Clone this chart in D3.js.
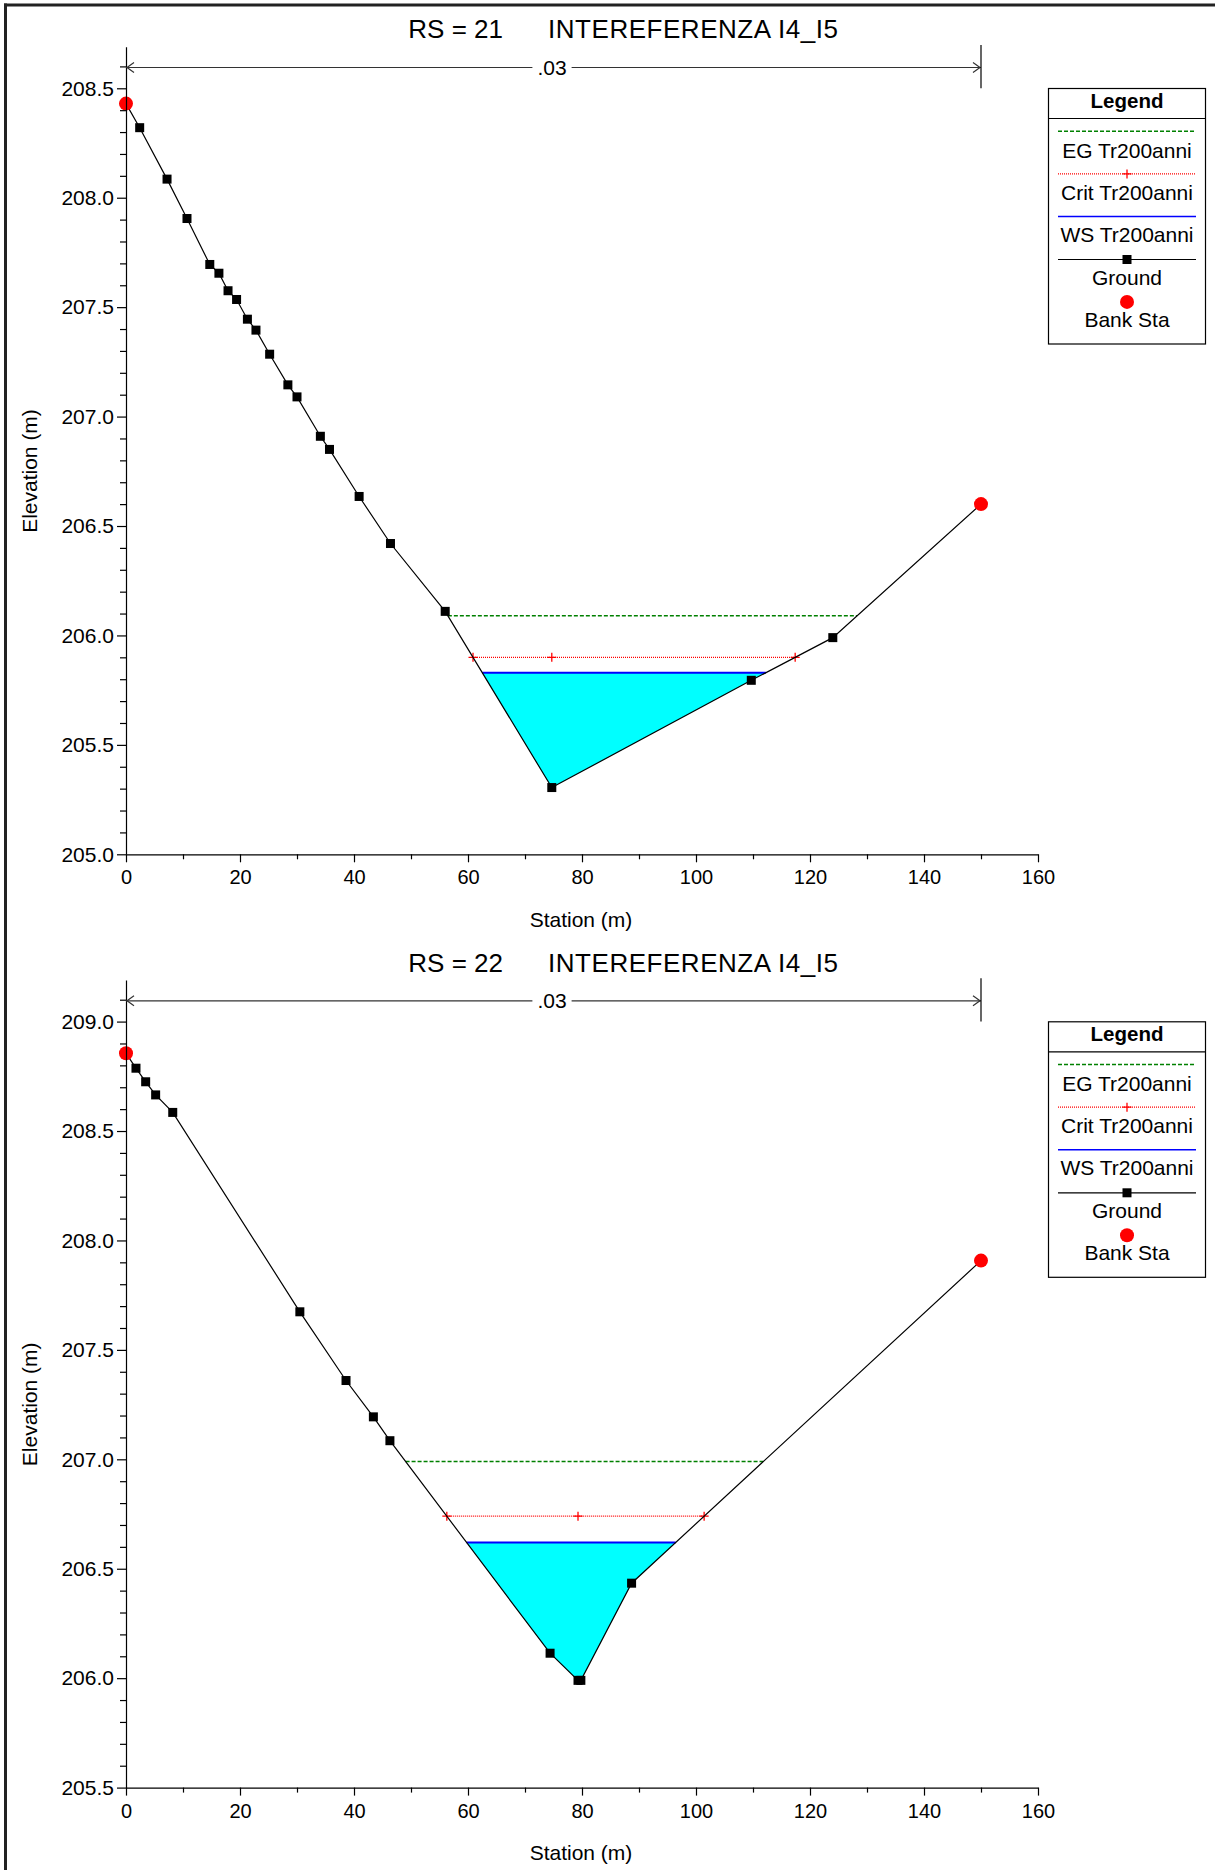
<!DOCTYPE html>
<html><head><meta charset="utf-8">
<script src="https://cdn.jsdelivr.net/npm/d3@7"></script>
<style>
body{margin:0;background:#fff;}
svg{display:block;font-family:"Liberation Sans",Arial,Helvetica,sans-serif;}
</style>
</head><body>
<svg id="c" width="1215" height="1870"></svg>
<script>
// ---------------- DATA ----------------
const rsLabels = ["RS = 21", "RS = 22"];
const reachName = "INTEREFERENZA I4_I5";

const stations21 = [0, 2.4, 7.2, 10.7, 14.7, 16.3, 17.9, 19.4, 21.3, 22.8, 25.2, 28.4, 30.0, 34.1, 35.7, 40.9, 46.4, 56.0, 74.7, 109.7, 124.0, 150.0];
const elev21     = [208.43, 208.32, 208.085, 207.905, 207.695, 207.655, 207.575, 207.535, 207.445, 207.395, 207.285, 207.145, 207.09, 206.91, 206.85, 206.635, 206.42, 206.11, 205.305, 205.795, 205.99, 206.60];

const stations22 = [0, 1.75, 3.45, 5.2, 8.2, 30.5, 38.6, 43.4, 46.3, 74.4, 79.3, 79.8, 88.7, 150.0];
const elev22     = [208.855, 208.787, 208.725, 208.665, 208.585, 207.674, 207.36, 207.194, 207.085, 206.114, 205.99, 205.99, 206.434, 207.908];

const bankSta21 = [0, 150];
const bankSta22 = [0, 150];

const egLevels   = [206.09, 206.99];
const critLevels = [205.90, 206.74];
const wsLevels   = [205.83, 206.62];

const manningN = [".03", ".03"];
const manningRange = [0, 150];

const xTicks = [0, 20, 40, 60, 80, 100, 120, 140, 160];
const xMinorTicks = [10, 30, 50, 70, 90, 110, 130, 150];
const yTicks21 = [205.0, 205.5, 206.0, 206.5, 207.0, 207.5, 208.0, 208.5];
const yTicks22 = [205.5, 206.0, 206.5, 207.0, 207.5, 208.0, 208.5, 209.0];
const yDomain21 = [205.0, 208.69];
const yDomain22 = [205.5, 209.19];

const legendTitle = "Legend";
const legendLabels = ["EG Tr200anni", "Crit Tr200anni", "WS Tr200anni", "Ground", "Bank Sta"];
const xAxisTitle = "Station (m)";
const yAxisTitle = "Elevation (m)";

// ---------------- STYLE / LAYOUT ----------------
const C = {eg:"#008000", crit:"#ff0000", ws:"#0000ff", water:"#00ffff", ground:"#000000", bank:"#ff0000"};
const svg = d3.select("#c");
svg.append("rect").attr("width",1215).attr("height",1870).attr("fill","#fff");

// window frame (top + left)
svg.append("rect").attr("x",4).attr("y",3.5).attr("width",1211).attr("height",3).attr("fill","#222");
svg.append("rect").attr("x",4).attr("y",3.5).attr("width",3).attr("height",1866.5).attr("fill","#222");

const panels = [
  {st:stations21, el:elev21, bank:bankSta21, yTicks:yTicks21, yDom:yDomain21, off:0},
  {st:stations22, el:elev22, bank:bankSta22, yTicks:yTicks22, yDom:yDomain22, off:933.3}
];

const plotL = 126, plotR = 1038, pxPerM = 218.86, yBase = 854.3;

function crossings(st, el, level){
  const iMin = d3.minIndex(el);
  let L = null, R = null;
  for (let i = iMin; i > 0; i--) {
    if (el[i-1] >= level && el[i] <= level) { L = st[i-1] + (level-el[i-1])/(el[i]-el[i-1])*(st[i]-st[i-1]); break; }
  }
  for (let i = iMin; i < st.length-1; i++) {
    if (el[i] <= level && el[i+1] >= level) { R = st[i] + (level-el[i])/(el[i+1]-el[i])*(st[i+1]-st[i]); break; }
  }
  return [L, R, st[iMin]];
}

panels.forEach((p, pi) => {
  const g = svg.append("g").attr("transform", `translate(0,${p.off})`);
  const x = d3.scaleLinear().domain([0,160]).range([plotL, plotR]);
  const y = d3.scaleLinear().domain(p.yDom).range([yBase, yBase - (p.yDom[1]-p.yDom[0])*pxPerM]);
  const top = y(p.yDom[1]);

  // title
  g.append("text").attr("x",408.3).attr("y",38.3).attr("font-size",26).attr("fill","#000").text(rsLabels[pi]);
  g.append("text").attr("x",548).attr("y",38.3).attr("font-size",26).attr("fill","#000")
    .attr("textLength",290).attr("lengthAdjust","spacing").text(reachName);

  // water fill
  const ws = wsLevels[pi];
  const [wl, wr] = crossings(p.st, p.el, ws);
  const poly = [[wl, ws]];
  p.st.forEach((s,i)=>{ if (s > wl && s < wr) poly.push([s, p.el[i]]); });
  poly.push([wr, ws]);
  g.append("path").attr("d", d3.line().x(d=>x(d[0])).y(d=>y(d[1]))(poly)+"Z").attr("fill", C.water).attr("stroke","none");

  // EG line
  const eg = egLevels[pi];
  const [el_, er_] = crossings(p.st, p.el, eg);
  g.append("line").attr("x1",x(el_)).attr("x2",x(er_)).attr("y1",y(eg)).attr("y2",y(eg))
    .attr("stroke",C.eg).attr("stroke-width",1.5).attr("stroke-dasharray","4,2");

  // Crit line
  const cr = critLevels[pi];
  const [cl, crr, cmid] = crossings(p.st, p.el, cr);
  g.append("line").attr("x1",x(cl)).attr("x2",x(crr)).attr("y1",y(cr)).attr("y2",y(cr))
    .attr("stroke",C.crit).attr("stroke-width",1.2).attr("stroke-dasharray","1,1");
  [cl, cmid, crr].forEach(s => {
    g.append("path").attr("d",`M${x(s)-4.5},${y(cr)}H${x(s)+4.5}M${x(s)},${y(cr)-4.5}V${y(cr)+4.5}`)
      .attr("stroke",C.crit).attr("stroke-width",1.3);
  });

  // WS line
  g.append("line").attr("x1",x(wl)).attr("x2",x(wr)).attr("y1",y(ws)).attr("y2",y(ws))
    .attr("stroke",C.ws).attr("stroke-width",2);

  // ground line
  const pts = p.st.map((s,i)=>[s, p.el[i]]);
  g.append("path").attr("d", d3.line().x(d=>x(d[0])).y(d=>y(d[1]))(pts))
    .attr("fill","none").attr("stroke",C.ground).attr("stroke-width",1.2);
  g.selectAll(".gpt").data(pts.filter(d=>!p.bank.includes(d[0]))).enter().append("rect")
    .attr("x",d=>x(d[0])-4.5).attr("y",d=>y(d[1])-4.5).attr("width",9).attr("height",9).attr("fill",C.ground);
  g.selectAll(".bpt").data(pts.filter(d=>p.bank.includes(d[0]))).enter().append("circle")
    .attr("cx",d=>x(d[0])).attr("cy",d=>y(d[1])).attr("r",7).attr("fill",C.bank);

  // axes
  const ya = g.append("g").attr("transform",`translate(${plotL},0)`)
    .call(d3.axisLeft(y).tickValues(p.yTicks).tickSize(9).tickSizeOuter(0).tickPadding(3).tickFormat(d3.format(".1f")));
  const yMinor = d3.range(Math.round(p.yDom[0]*10), Math.floor(p.yDom[1]*10+1e-6)+1).map(v=>v/10)
    .filter(v => !p.yTicks.some(t=>Math.abs(t-v)<1e-6));
  g.append("g").attr("transform",`translate(${plotL},0)`)
    .call(d3.axisLeft(y).tickValues(yMinor).tickSize(6).tickSizeOuter(0).tickFormat(""))
    .call(a=>a.select(".domain").remove());
  ya.selectAll("text").attr("font-size",21).attr("font-family","inherit").attr("fill","#000");

  const xa = g.append("g").attr("transform",`translate(0,${yBase})`)
    .call(d3.axisBottom(x).tickValues(xTicks).tickSize(8).tickSizeOuter(0).tickPadding(8).tickFormat(d3.format("d")));
  g.append("g").attr("transform",`translate(0,${yBase})`)
    .call(d3.axisBottom(x).tickValues(xMinorTicks).tickSize(5).tickSizeOuter(0).tickFormat(""))
    .call(a=>a.select(".domain").remove());
  xa.selectAll("text").attr("font-size",20).attr("font-family","inherit").attr("fill","#000");
  g.selectAll(".domain, .tick line").attr("stroke","#000").attr("stroke-width",1.2);

  // axis titles
  g.append("text").attr("x",(plotL+plotR)/2 - 1).attr("y",926.5).attr("text-anchor","middle")
    .attr("font-size",21).text(xAxisTitle);
  g.append("text").attr("transform","translate(36.5,471) rotate(-90)").attr("text-anchor","middle")
    .attr("font-size",21).text(yAxisTitle);

  // Manning's n arrow
  const ay = top + 20.8;
  const xa0 = x(manningRange[0]), xa1 = x(manningRange[1]);
  const lbl = g.append("text").attr("x",(xa0+xa1)/2 - 1.5).attr("y",ay+7.5).attr("text-anchor","middle")
    .attr("font-size",21).text(manningN[pi]);
  const bb = lbl.node().getBBox();
  g.append("line").attr("x1",xa0).attr("x2",bb.x-5).attr("y1",ay).attr("y2",ay).attr("stroke","#333").attr("stroke-width",1.2);
  g.append("line").attr("x1",bb.x+bb.width+5).attr("x2",xa1).attr("y1",ay).attr("y2",ay).attr("stroke","#333").attr("stroke-width",1.2);
  g.append("path").attr("d",`M${xa0+8},${ay-5}L${xa0+1},${ay}L${xa0+8},${ay+5}`).attr("fill","none").attr("stroke","#333").attr("stroke-width",1.2);
  g.append("path").attr("d",`M${xa1-8},${ay-5}L${xa1-1},${ay}L${xa1-8},${ay+5}`).attr("fill","none").attr("stroke","#333").attr("stroke-width",1.2);
  g.append("line").attr("x1",xa1).attr("x2",xa1).attr("y1",top-1.7).attr("y2",top+41.6).attr("stroke","#000").attr("stroke-width",1.2);

  // legend
  const lx = 1048.5, ly = 88.5, lw = 157, lh = 255.5, lc = lx + lw/2;
  const lg = g.append("g");
  lg.append("rect").attr("x",lx).attr("y",ly).attr("width",lw).attr("height",lh).attr("fill","#fff").attr("stroke","#000").attr("stroke-width",1.2);
  lg.append("line").attr("x1",lx).attr("x2",lx+lw).attr("y1",ly+30).attr("y2",ly+30).attr("stroke","#000").attr("stroke-width",1.2);
  lg.append("text").attr("x",lc).attr("y",ly+19.5).attr("text-anchor","middle").attr("font-size",20.5).attr("font-weight","bold").text(legendTitle);
  const lx1 = lx+9.5, lx2 = lx+lw-9.5;
  lg.append("line").attr("x1",lx1).attr("x2",lx2).attr("y1",ly+42.7).attr("y2",ly+42.7).attr("stroke",C.eg).attr("stroke-width",1.5).attr("stroke-dasharray","4,2");
  lg.append("line").attr("x1",lx1).attr("x2",lx2).attr("y1",ly+85.4).attr("y2",ly+85.4).attr("stroke",C.crit).attr("stroke-width",1.2).attr("stroke-dasharray","1,1");
  lg.append("path").attr("d",`M${lc-4.5},${ly+85.4}H${lc+4.5}M${lc},${ly+81}V${ly+90}`).attr("stroke",C.crit).attr("stroke-width",1.3);
  lg.append("line").attr("x1",lx1).attr("x2",lx2).attr("y1",ly+128).attr("y2",ly+128).attr("stroke",C.ws).attr("stroke-width",1.5);
  lg.append("line").attr("x1",lx1).attr("x2",lx2).attr("y1",ly+171).attr("y2",ly+171).attr("stroke",C.ground).attr("stroke-width",1.2);
  lg.append("rect").attr("x",lc-4.5).attr("y",ly+166.5).attr("width",9).attr("height",9).attr("fill",C.ground);
  lg.append("circle").attr("cx",lc).attr("cy",ly+213.4).attr("r",7).attr("fill",C.bank);
  const lys = [69, 111, 153.4, 196, 238.4];
  legendLabels.forEach((t,i)=>{
    lg.append("text").attr("x",lc).attr("y",ly+lys[i]).attr("text-anchor","middle").attr("font-size",21).text(t);
  });
});
</script>
</body></html>
